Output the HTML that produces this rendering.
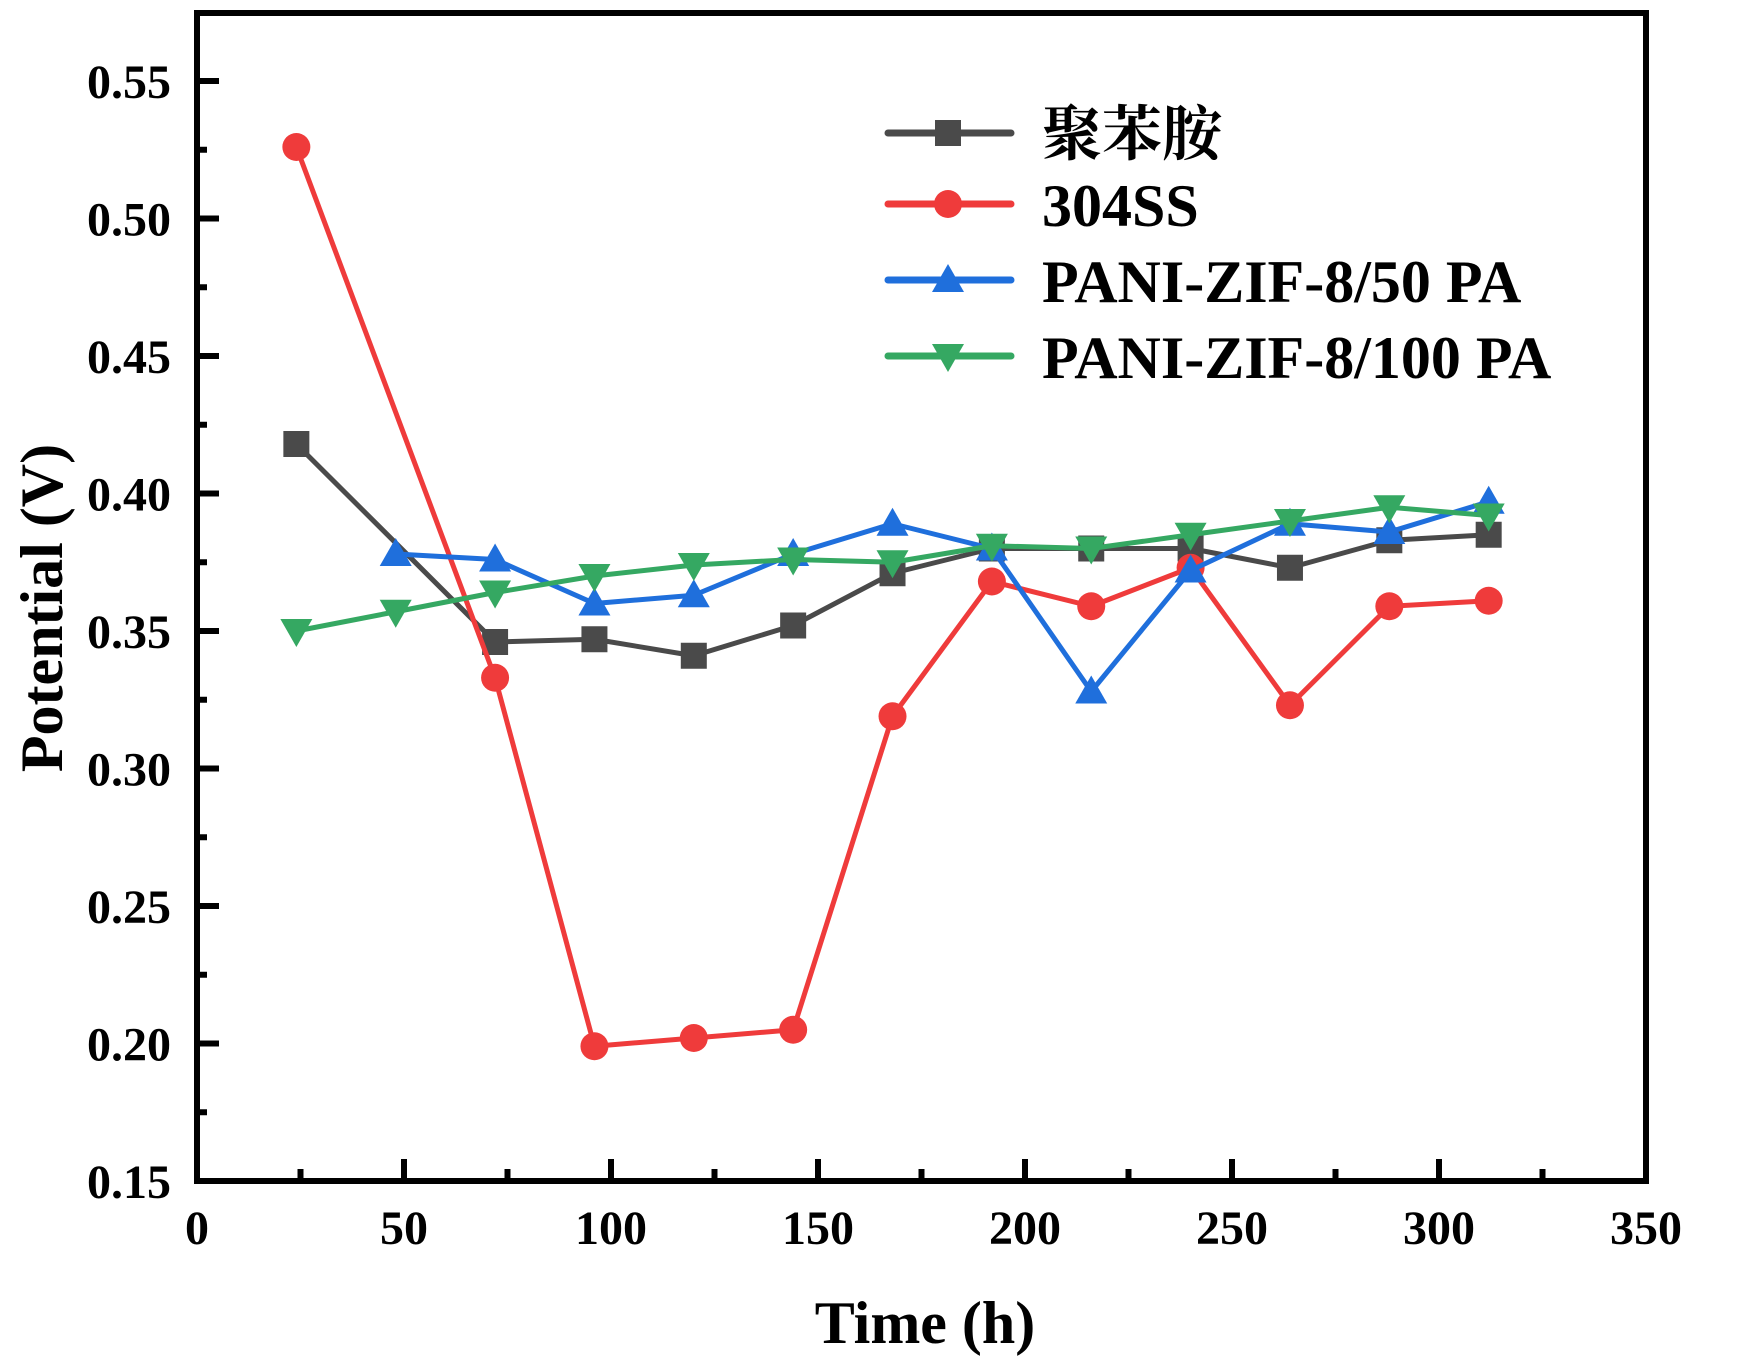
<!DOCTYPE html>
<html><head><meta charset="utf-8"><style>
html,body{margin:0;padding:0;background:#fff;}
svg{display:block;font-family:"Liberation Serif","Noto Serif CJK SC",serif;font-weight:bold;}
</style></head><body>
<svg id="chart" width="1742" height="1359" viewBox="0 0 1742 1359" xmlns="http://www.w3.org/2000/svg">
<g id="plot"></g>
</svg>
<script>
const xTicks=[0,50,100,150,200,250,300,350];
const yTicks=[0.15,0.20,0.25,0.30,0.35,0.40,0.45,0.50,0.55];
const yTickLabels=["0.15","0.20","0.25","0.30","0.35","0.40","0.45","0.50","0.55"];
const timesPani=[24,72,96,120,144,168,192,216,240,264,288,312];
const valuesPani=[0.418,0.346,0.347,0.341,0.352,0.371,0.380,0.380,0.380,0.373,0.383,0.385];
const times304=[24,72,96,120,144,168,192,216,240,264,288,312];
const values304=[0.526,0.333,0.199,0.202,0.205,0.319,0.368,0.359,0.373,0.323,0.359,0.361];
const times50=[48,72,96,120,144,168,192,216,240,264,288,312];
const values50=[0.378,0.376,0.360,0.363,0.378,0.389,0.380,0.328,0.372,0.389,0.386,0.397];
const times100=[24,48,72,96,120,144,168,192,216,240,264,288,312];
const values100=[0.350,0.357,0.364,0.370,0.374,0.376,0.375,0.381,0.380,0.385,0.390,0.395,0.392];
const seriesNames=["聚苯胺","304SS","PANI-ZIF-8/50 PA","PANI-ZIF-8/100 PA"];

const NS="http://www.w3.org/2000/svg";
const X0=197,X1=1646,Y0=1181,Y1=13;
const xs=v=>X0+(v-0)/(350-0)*(X1-X0);
const ys=v=>1181-(v-0.15)/(0.55-0.15)*(1181-81);
const g=document.getElementById('plot');
function el(t,a,p){const e=document.createElementNS(NS,t);for(const k in a)e.setAttribute(k,a[k]);(p||g).appendChild(e);return e;}

xTicks.forEach((t,i)=>{
  const x=xs(t);
  const tk=el('line',{x1:x,x2:x,y1:Y0,y2:Y0-22,stroke:'#000','stroke-width':6});
  
  
  if(i<xTicks.length-1){const mx=xs(t+25);const m=el('line',{x1:mx,x2:mx,y1:Y0,y2:Y0-12,stroke:'#000','stroke-width':6});
    
    }
  const lb=el('text',{x:x,y:1244,'text-anchor':'middle','font-size':48});lb.textContent=t;
  
  
});
yTicks.forEach((t,i)=>{
  const y=ys(t);
  const tk=el('line',{x1:X0,x2:X0+22,y1:y,y2:y,stroke:'#000','stroke-width':6});
  
  
  const mv=t+0.025;const my=ys(mv);
  if(my>Y1+5){const m=el('line',{x1:X0,x2:X0+10,y1:my,y2:my,stroke:'#000','stroke-width':6});
    
    }
  const lb=el('text',{x:171,y:y+17,'text-anchor':'end','font-size':48});lb.textContent=yTickLabels[i];
  
  
});
const frame=el('rect',{x:X0,y:Y1,width:X1-X0,height:Y0-Y1,fill:'none',stroke:'#000','stroke-width':6});



function marker(type,x,y,color,parent){
  let m;
  if(type==='sq')m=el('rect',{x:x-13,y:y-13,width:26,height:26,fill:color},parent);
  else if(type==='ci')m=el('circle',{cx:x,cy:y,r:14,fill:color},parent);
  else if(type==='up')m=el('polygon',{points:`${x},${y-16} ${x-16},${y+12} ${x+16},${y+12}`,fill:color},parent);
  else m=el('polygon',{points:`${x},${y+16} ${x-16},${y-12} ${x+16},${y-12}`,fill:color},parent);
  return m;
}
const series=[
 {t:timesPani,v:valuesPani,c:'#4a4a4a',m:'sq',n:'pani'},
 {t:times304,v:values304,c:'#ef3b3b',m:'ci',n:'304ss'},
 {t:times50,v:values50,c:'#1f6fdc',m:'up',n:'pani-zif-8-50'},
 {t:times100,v:values100,c:'#35a862',m:'dn',n:'pani-zif-8-100'}
];
series.forEach((s,si)=>{
  const sg=el('g',{});
  
  
  const pts=s.t.map((t,i)=>xs(t)+','+ys(s.v[i])).join(' ');
  const pl=el('polyline',{points:pts,fill:'none',stroke:s.c,'stroke-width':5,'stroke-linejoin':'round'},sg);
  
  
  s.t.forEach((t,i)=>{const mk=marker(s.m,xs(t),ys(s.v[i]),s.c,sg);
    
    });
  const ly=[133,204,280,356][si];
  const lg=el('g',{});
  
  
  el('line',{x1:888,x2:1011,y1:ly,y2:ly,stroke:s.c,'stroke-width':7,'stroke-linecap':'round'},lg);
  marker(s.m,948,ly,s.c,lg);
  const tx=el('text',{x:1042,y:ly+22,'font-size':60},lg);tx.textContent=seriesNames[si];
});

const xt=el('text',{x:925,y:1343,'text-anchor':'middle','font-size':60});xt.textContent='Time (h)';


const yt=el('text',{x:0,y:0,'text-anchor':'middle','font-size':60,transform:'translate(62,608) rotate(-90)'});yt.textContent='Potential (V)';


</script>
</body></html>
